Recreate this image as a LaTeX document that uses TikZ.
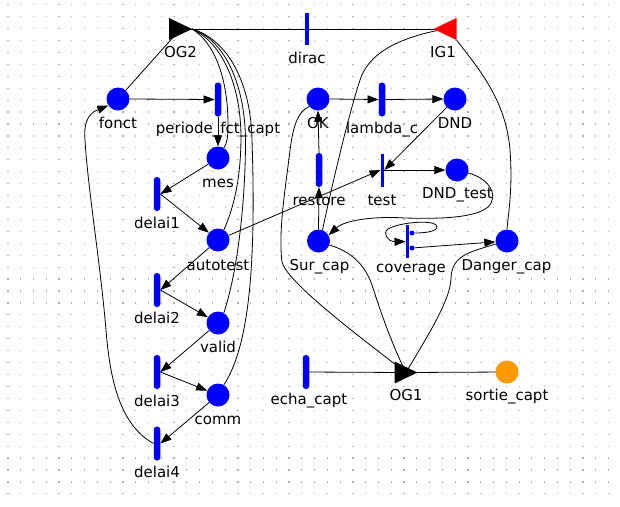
\documentclass[tikz,border=0pt]{standalone}
\usepackage{fontspec}
\setmainfont{DejaVu Sans}
\usetikzlibrary{arrows.meta,backgrounds}

\definecolor{placeblue}{RGB}{0,0,255}
\definecolor{outorange}{RGB}{255,153,0}
\definecolor{gatered}{RGB}{255,0,0}
\definecolor{griddot}{RGB}{175,175,175}

\begin{document}
\begin{tikzpicture}[x=1pt,y=-1pt,
  place/.style={circle,fill=placeblue,minimum size=23pt,inner sep=0pt},
  outplace/.style={place,fill=outorange},
  timed/.style={rectangle,fill=placeblue,minimum width=6.5pt,minimum height=34pt,inner sep=0pt,rounded corners=3pt},
  immediate/.style={rectangle,fill=placeblue,minimum width=3.5pt,minimum height=33pt,inner sep=0pt},
  testmark/.style={circle,fill=placeblue,minimum size=5pt,inner sep=0pt},
  gateright/.style={rectangle,minimum width=23pt,minimum height=22pt,inner sep=0pt,
    path picture={\fill[#1] (path picture bounding box.north west) -- (path picture bounding box.east)
      -- (path picture bounding box.south west) -- cycle;}},
  gateleft/.style={rectangle,minimum width=23pt,minimum height=22pt,inner sep=0pt,
    path picture={\fill[#1] (path picture bounding box.north east) -- (path picture bounding box.west)
      -- (path picture bounding box.south east) -- cycle;}},
  lbl/.style={anchor=base,inner sep=0pt,font=\fontsize{15}{18}\selectfont},
  arc/.style={line width=0.8pt,black},
  arr/.style={arc,-{Triangle[length=11pt,width=8pt]}},
]
\useasboundingbox (0,0) rectangle (620,506);

% ---- gates ----
\node[gateright=black] (OG2) at (180.5,29) {};
\node[gateleft=gatered] (IG1) at (445,29) {};
\node[gateright=black] (OG1) at (406,372.5) {};

% ---- sensor operation cycle ----
\node[place] (fonct) at (118,99) {};
\node[timed] (periode) at (218,99.5) {};
\node[place] (mes) at (218,158) {};
\node[timed] (delai1) at (157,194) {};
\node[place] (autotest) at (218,240) {};
\node[timed] (delai2) at (157,290) {};
\node[place] (valid) at (218,323) {};
\node[timed] (delai3) at (157,372) {};
\node[place] (comm) at (218,395) {};
\node[timed] (delai4) at (157,443.5) {};

% ---- failure / test part ----
\node[immediate,minimum height=32pt] (dirac) at (307,29) {};
\node[place] (OK) at (318,99) {};
\node[timed] (lambda) at (382,99.5) {};
\node[place] (DND) at (455,99) {};
\node[immediate] (test) at (382.5,170) {};
\node[place] (DNDtest) at (457,170) {};
\node[timed] (restore) at (319,170) {};
\node[place] (Surcap) at (318.5,241) {};
\node[immediate] (coverage) at (407.5,241.5) {};
\node[testmark] (covA) at (412,233) {};
\node[testmark] (covB) at (412,248) {};
\node[place] (Dangercap) at (507,241) {};
\node[timed] (echa) at (306,372) {};
\node[outplace] (sortie) at (507,372) {};

% ---- labels ----
\node[lbl] (OG2L) at (180.5,57) {OG2};
\node[lbl] (diracL) at (307,63) {dirac};
\node[lbl] (IG1L) at (443,57) {IG1};
\node[lbl] (fonctL) at (118,128) {fonct};
\node[lbl] (periodeL) at (218,133) {periode\_fct\_capt};
\node[lbl] (mesL) at (218,187) {mes};
\node[lbl] (delai1L) at (157,228) {delai1};
\node[lbl] (autotestL) at (218,270) {autotest};
\node[lbl] (delai2L) at (157,323) {delai2};
\node[lbl] (validL) at (218,352) {valid};
\node[lbl] (delai3L) at (157,406) {delai3};
\node[lbl] (commL) at (218,424) {comm};
\node[lbl] (delai4L) at (157,477) {delai4};
\node[lbl] (OKL) at (318,128) {OK};
\node[lbl] (lambdaL) at (382,133) {lambda\_c};
\node[lbl] (DNDL) at (455,128) {DND};
\node[lbl] (testL) at (382,205) {test};
\node[lbl] (DNDtestL) at (457.5,198) {DND\_test};
\node[lbl] (restoreL) at (319,205) {restore};
\node[lbl] (SurcapL) at (319.5,270) {Sur\_cap};
\node[lbl] (coverageL) at (411,272) {coverage};
\node[lbl] (DangercapL) at (506.5,270) {Danger\_cap};
\node[lbl] (echaL) at (309,404) {echa\_capt};
\node[lbl] (OG1L) at (406,400) {OG1};
\node[lbl] (sortieL) at (507,400) {sortie\_capt};

\begin{scope}[on background layer]
  \fill[white] (0,0) rectangle (620,506);
  % dotted editing grid
  \foreach \i in {0,...,48}
    \foreach \j in {0,...,41}
      \fill[griddot] ({7.9+12.78*\i-0.6},{4.7+11.93*\j-0.6}) rectangle ++(1.2,1.2);

  % top link between the gates
  \draw[arc] (OG2.center) -- (IG1.center);
  \draw[arc] (fonct) -- (OG2.center);

  % operation cycle
  \draw[arr] (fonct.east) -- (periode.west);
  \draw[arr] (periode.south) -- (mes.north);
  \draw[arr] (mes) -- (delai1.east);
  \draw[arr] (delai1.east) -- (autotest);
  \draw[arr] (autotest) -- (delai2.east);
  \draw[arr] (delai2.east) -- (valid);
  \draw[arr] (valid) -- (delai3.east);
  \draw[arr] (delai3.east) -- (comm);
  \draw[arr] (comm) -- (delai4.east);
  \draw[arr] (delai4.west) .. controls (120,425) and (110,380) .. (106,330)
     .. controls (100,260) and (88,190) .. (85,140)
     .. controls (83,118) and (92,112) .. (fonct.214);

  % reset arcs from OG2
  \draw[arc] (OG2.east) .. controls (213,42) and (228,75) .. (228,125)
     .. controls (228,138) and (227,143) .. (mes.60);
  \draw[arc] (OG2.east) .. controls (220,42) and (240,80) .. (241,135)
     .. controls (241,175) and (235,205) .. (autotest.60);
  \draw[arc] (OG2.east) .. controls (225,40) and (245,85) .. (245.5,140)
     .. controls (245.5,200) and (238,270) .. (valid.60);
  \draw[arc] (OG2.east) .. controls (229,40) and (251,85) .. (252,140)
     .. controls (256,260) and (250,345) .. (comm.60);

  % failure and test part
  \draw[arr] (OK.east) -- (lambda.west);
  \draw[arr] (lambda.east) -- (DND.west);
  \draw[arr] (DND) -- (test.east);
  \draw[arr] (autotest) -- (test.west);
  \draw[arr] (test.east) -- (DNDtest.west);
  \draw[arr] (restore.north) -- (OK.south);
  \draw[arr] (Surcap.north) -- (restore.south);
  \draw[arr] (DNDtest.-15) .. controls (488,178) and (500,195) .. (488,207)
     .. controls (475,218) and (440,219) .. (405,218)
     .. controls (375,216) and (345,220) .. (Surcap.30);
  \draw[arr] (covA.east) .. controls (430,233) and (440,230) .. (436,225)
     .. controls (432,220) and (400,222) .. (388,229)
     .. controls (382,233) and (388,242) .. (coverage.west);
  \draw[arr] (covB) -- (Dangercap);
  \draw[arc] (Surcap.70) .. controls (333,180) and (350,110) .. (360,80)
     .. controls (368,55) and (395,38) .. (IG1.center);
  \draw[arc] (IG1.south east) .. controls (478,68) and (506,100) .. (510,150)
     .. controls (513,190) and (508,215) .. (Dangercap.north);

  % inputs of OG1
  \draw[arc] (OK.220) .. controls (297,112) and (293,128) .. (290,150)
     .. controls (286,185) and (278,230) .. (282,262)
     .. controls (286,278) and (330,315) .. (OG1.center);
  \draw[arc] (Surcap.-20) .. controls (352,252) and (365,265) .. (372,285)
     .. controls (380,310) and (392,345) .. (OG1.center);
  \draw[arc] (Dangercap.195) .. controls (470,252) and (452,255) .. (451,278)
     .. controls (451,300) and (425,340) .. (OG1.center);
  \draw[arc] (echa.center) -- (OG1.center);
  \draw[arc] (OG1.center) -- (sortie.center);
\end{scope}
\end{tikzpicture}
\end{document}
